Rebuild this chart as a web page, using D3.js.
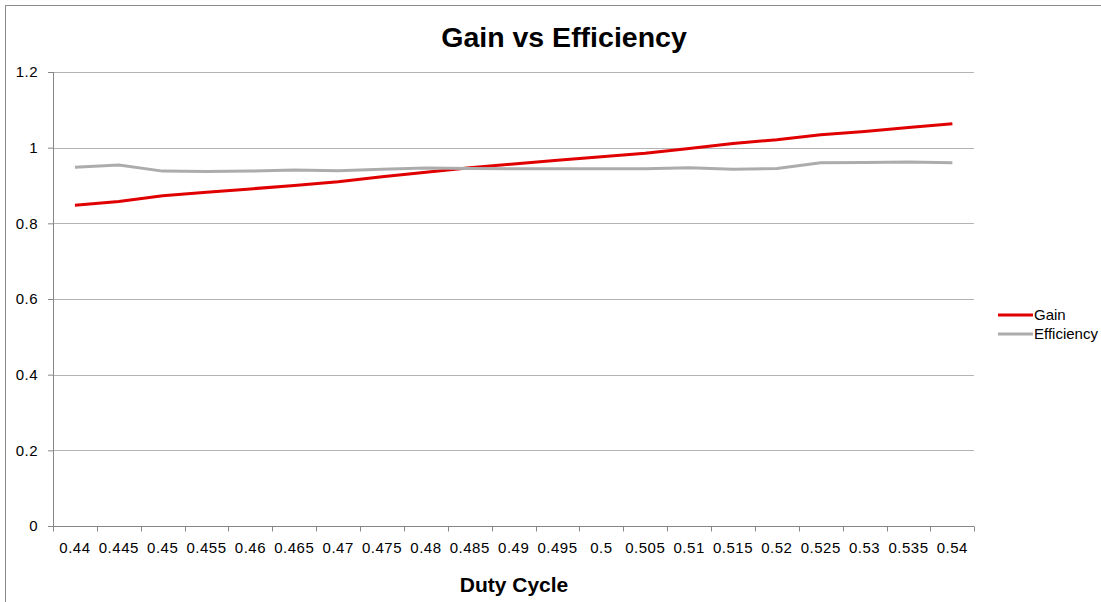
<!DOCTYPE html>
<style>
body { margin: 0; background: #fff; }
text { font-family: "Liberation Sans", Arial, sans-serif; }
</style>
<svg width="1101" height="602"></svg>
<script src="https://cdnjs.cloudflare.com/ajax/libs/d3/7.8.5/d3.min.js"></script>
<script>

var dutyCycle = ["0.44", "0.445", "0.45", "0.455", "0.46", "0.465", "0.47", "0.475", "0.48", "0.485", "0.49",
                 "0.495", "0.5", "0.505", "0.51", "0.515", "0.52", "0.525", "0.53", "0.535", "0.54"];
var gain = [0.848, 0.858, 0.873, 0.882, 0.891, 0.900, 0.910, 0.923, 0.935, 0.947, 0.957,
            0.967, 0.976, 0.985, 0.998, 1.011, 1.021, 1.034, 1.043, 1.053, 1.063];
var efficiency = [0.948, 0.954, 0.938, 0.937, 0.938, 0.941, 0.939, 0.943, 0.946, 0.945, 0.944,
                  0.944, 0.944, 0.944, 0.947, 0.943, 0.945, 0.960, 0.961, 0.962, 0.960];
var yTicks = [0, 0.2, 0.4, 0.6, 0.8, 1, 1.2];

var series = [
  {name: "Gain", values: gain, color: "#e00000"},
  {name: "Efficiency", values: efficiency, color: "#acacac"}
];

var svg = d3.select("svg"),
    margin = {top: 72, left: 53, right: 127, bottom: 76},
    width = +svg.attr("width") - margin.left - margin.right,
    height = +svg.attr("height") - margin.top - margin.bottom;

// chart frame (runs past the window edge, as in the reference)
svg.append("rect")
    .attr("x", 5.5).attr("y", 5.5)
    .attr("width", 1200).attr("height", 700)
    .attr("fill", "none")
    .attr("stroke", "#8c8c8c");

var g = svg.append("g").attr("transform", "translate(" + margin.left + "," + margin.top + ")");

var x = d3.scaleBand().domain(dutyCycle).range([0, width + 0.3]);
var y = d3.scaleLinear().domain([0, 1.2]).range([height, 0]);

// gridlines
g.append("g")
  .selectAll("line")
  .data(yTicks.slice(1))
  .enter().append("line")
    .attr("x1", 0)
    .attr("x2", width)
    .attr("y1", function(d) { return Math.round(y(d)) + 0.5; })
    .attr("y2", function(d) { return Math.round(y(d)) + 0.5; })
    .attr("stroke", "#b4b4b4");

// y axis
var yAxis = g.append("g")
    .call(d3.axisLeft(y).tickValues(yTicks).tickSize(5).tickPadding(10).tickFormat(d3.format("")));
yAxis.select(".domain").attr("stroke", "#868686").attr("d", "M0.5," + height + "V0");
yAxis.selectAll(".tick line").attr("stroke", "#868686");
yAxis.selectAll("text").attr("font-size", 15).attr("fill", "#000")
    .attr("letter-spacing", 0.5)
    .style("font-family", "Liberation Sans, Arial, sans-serif");

// x axis: ticks at band edges
var xg = g.append("g").attr("transform", "translate(0," + (height + 0.5) + ")");
xg.append("line")
    .attr("x1", 0).attr("x2", width)
    .attr("stroke", "#868686");
xg.selectAll(".edge")
  .data(dutyCycle.concat(["end"]))
  .enter().append("line")
    .attr("class", "edge")
    .attr("x1", function(d, i) { return Math.round(i < dutyCycle.length ? x(d) : width) + 0.5; })
    .attr("x2", function(d, i) { return Math.round(i < dutyCycle.length ? x(d) : width) + 0.5; })
    .attr("y1", 0).attr("y2", 5)
    .attr("stroke", "#868686");
xg.selectAll(".lab")
  .data(dutyCycle)
  .enter().append("text")
    .attr("class", "lab")
    .attr("x", function(d) { return x(d) + x.bandwidth() / 2; })
    .attr("y", 26)
    .attr("text-anchor", "middle")
    .attr("font-size", 15)
    .attr("letter-spacing", 0.5)
    .text(function(d) { return d; });

// lines
var line = d3.line()
    .x(function(d, i) { return x(dutyCycle[i]) + x.bandwidth() / 2; })
    .y(function(d) { return y(d); });

g.selectAll(".series")
  .data(series)
  .enter().append("path")
    .attr("class", "series")
    .attr("fill", "none")
    .attr("stroke", function(d) { return d.color; })
    .attr("stroke-width", 3)
    .attr("stroke-linejoin", "round")
    .attr("d", function(d) { return line(d.values); });

// title
svg.append("text")
    .attr("x", 564)
    .attr("y", 47)
    .attr("text-anchor", "middle")
    .attr("font-size", 28.5)
    .attr("font-weight", "bold")
    .text("Gain vs Efficiency");

svg.append("text")
    .attr("x", 514)
    .attr("y", 592)
    .attr("text-anchor", "middle")
    .attr("font-size", 21)
    .attr("font-weight", "bold")
    .text("Duty Cycle");

// legend
var legend = svg.append("g")
  .selectAll("g")
  .data(series)
  .enter().append("g")
    .attr("transform", function(d, i) { return "translate(998," + (315 + i * 19) + ")"; });

legend.append("line")
    .attr("x1", 0).attr("x2", 35)
    .attr("stroke", function(d) { return d.color; })
    .attr("stroke-width", 3);

legend.append("text")
    .attr("x", 36)
    .attr("dy", "0.35em")
    .attr("font-size", 15)
    .text(function(d) { return d.name; });

</script>
